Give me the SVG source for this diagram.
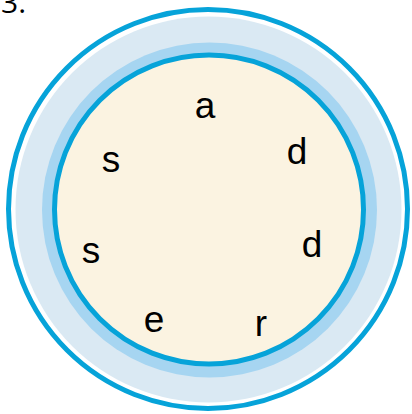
<svg xmlns="http://www.w3.org/2000/svg" width="412" height="414" viewBox="0 0 412 414">
<style>
.lbl{font-family:"Liberation Sans",Arial,sans-serif;font-size:37px;fill:#000;text-anchor:middle}
.num{font-family:"Open Sans","Liberation Sans",sans-serif;font-size:30px;fill:#000}
</style>
<rect width="412" height="414" fill="#fff"/>
<text class="num" x="1" y="13">3.</text>
<g id="outer">
<circle cx="208" cy="209" r="199.5" fill="#fff" stroke="#06a3d9" stroke-width="5"/>
<circle cx="208.5" cy="209.5" r="193" fill="#dae9f3"/>
<circle cx="209.5" cy="210" r="167.5" fill="#a6d5f1"/>
</g>
<g id="inner">
<circle cx="209" cy="209.5" r="154.5" fill="#fbf3e1" stroke="#06a3d9" stroke-width="5"/>
</g>
<g id="letters">
<text class="lbl" x="205" y="118">a</text>
<text class="lbl" x="297" y="164">d</text>
<text class="lbl" x="312" y="257">d</text>
<text class="lbl" x="261" y="336">r</text>
<text class="lbl" x="154" y="332">e</text>
<text class="lbl" x="111" y="172">s</text>
<text class="lbl" x="91" y="263">s</text>
</g>
</svg>
